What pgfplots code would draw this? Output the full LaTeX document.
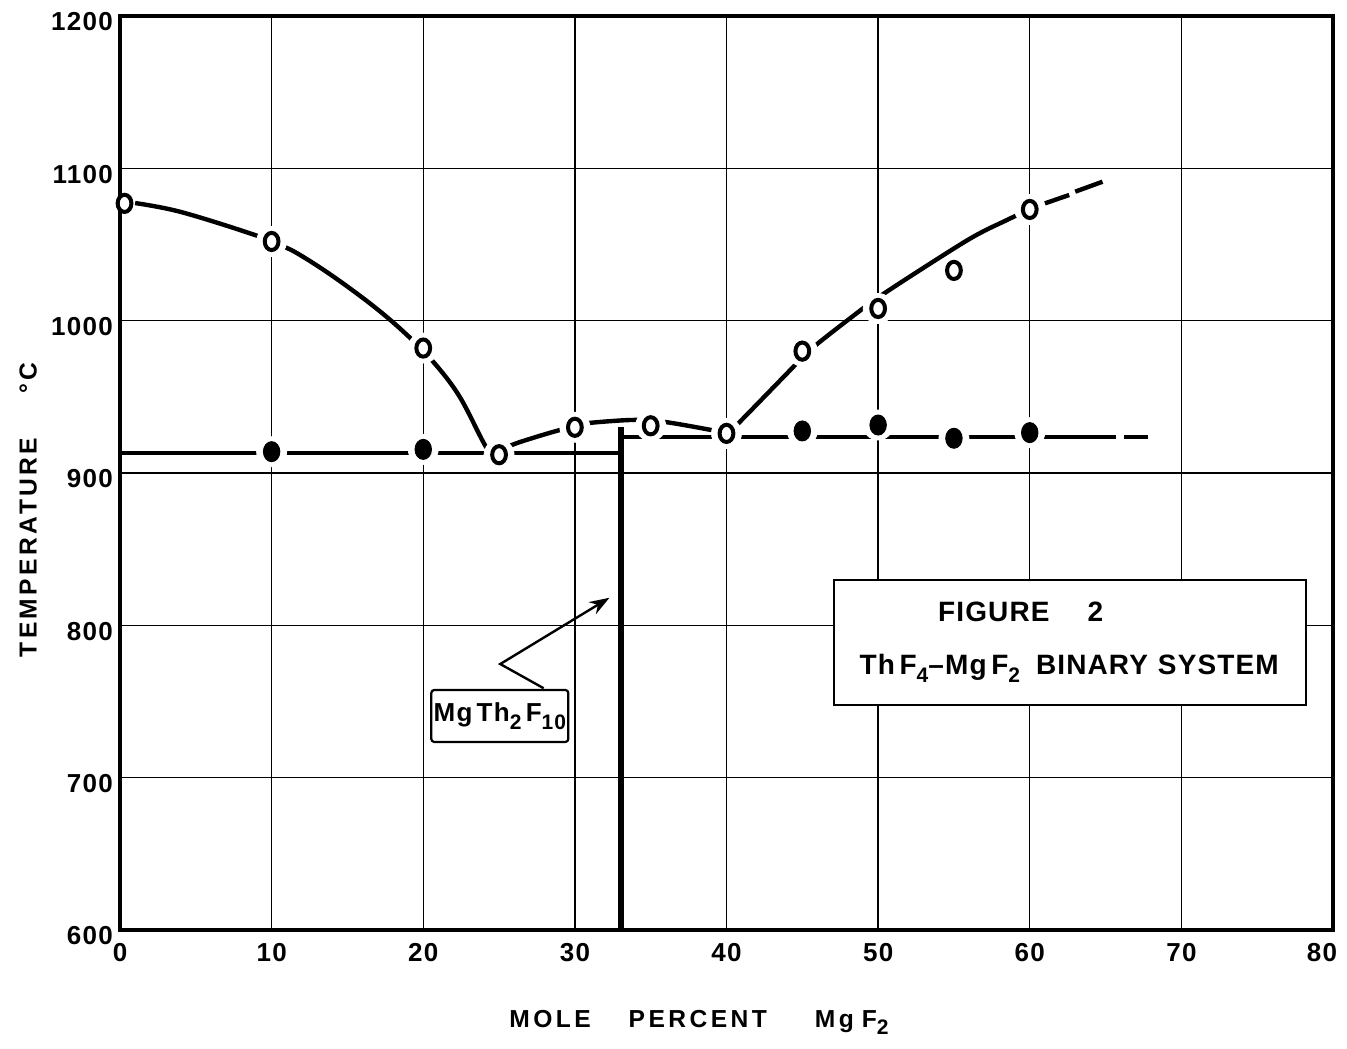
\documentclass[border=0pt]{standalone}
\usepackage{fontspec}
\setmainfont{Liberation Sans}
\newfontfamily\widefont{Liberation Sans}[LetterSpace=14]
\newfontfamily\tickfont{Liberation Sans}[LetterSpace=5]
\newfontfamily\boxfont{Liberation Sans}[LetterSpace=4]
\usepackage{pgfplots}
\pgfplotsset{compat=1.18}
\usetikzlibrary{arrows.meta}
\newcommand{\sub}[1]{\raisebox{-0.55ex}{\fontsize{10.5}{10.5}\selectfont #1}}
\newcommand{\lbl}{\boxfont\fontsize{14}{14}\selectfont\bfseries}
\newcommand{\axl}{\widefont\fontsize{12.3}{12.3}\selectfont\bfseries}
\begin{document}
\begin{tikzpicture}
\useasboundingbox (-60pt,-59pt) rectangle (613.5pt,465pt);
\begin{axis}[
  scale only axis, width=606.5pt, height=457pt,
  xmin=0, xmax=80, ymin=600, ymax=1200,
  xtick={0,10,...,80}, ytick={600,700,...,1200},
  xticklabels={0,10,20,30,40,50,60,70,80\hspace*{11pt}},
  grid=major, major grid style={black, line width=0.7pt},
  axis line style={line width=1.6pt},
  major tick length=0pt,
  tick label style={font=\tickfont\fontsize{13}{13}\selectfont\bfseries},
  /pgf/number format/assume math mode=true,
  /pgf/number format/1000 sep={},
  xticklabel style={yshift=-3pt},
  yticklabel style={yshift=-3pt},
  clip=false,
  xlabel={\axl MOLE\hspace{19pt}PERCENT\hspace{24pt}Mg\hspace{4pt}F\sub{2}},
  xlabel style={at={(axis description cs:0.4773,0)}, anchor=center, yshift=-46pt},
  ylabel={\axl TEMPERATURE\hspace{22pt}°C},
  ylabel style={at={(axis description cs:-0.0758,0.4595)}, anchor=center},
]
% liquidus, left branch
\addplot[black, line width=2.2pt, smooth, tension=0.6, mark=none] coordinates {
 (1.0,1077.2) (3.96,1071.5) (8.58,1057.3) (10.67,1049.2) (11.88,1043.1) (14.08,1028.9) (16.72,1009.5)
 (18.81,991.7) (20.66,973) (22.4,950.1) (24.2,916.2) (25,911)};
% liquidus, middle
\addplot[black, line width=2.2pt, smooth, tension=0.5, mark=none] coordinates {
 (25,912) (25.85,918.4) (28.6,927.1) (30,930.4) (30.7,932.6) (33.7,934.8)
 (35.8,933.7) (39,928.2) (40,925.6)};
% liquidus, right branch
\addplot[black, line width=2.2pt, smooth, tension=0.5, mark=none] coordinates {
 (40,925.6) (40.8,932.8) (44.1,966.5) (45.5,980.7) (48,1000.4) (50.4,1017.9)
 (55.9,1052.9) (58.5,1066.1) (60,1073)};
\addplot[black, line width=2.2pt, mark=none] coordinates {(61,1077) (62.6,1082.5)};
\addplot[black, line width=2.2pt, mark=none] coordinates {(63,1084.7) (64.8,1091.2)};
% solidus
\addplot[black, line width=2.2pt, mark=none] coordinates {(0,913) (33.05,913)};
\addplot[black, line width=2.2pt, mark=none] coordinates {(33.05,923.8) (65.7,923.8)};
\addplot[black, line width=2.2pt, mark=none] coordinates {(66.2,923.8) (67.8,923.8)};
% compound MgTh2F10
\addplot[black, line width=2.8pt, mark=none] coordinates {(33.05,600) (33.05,930)};
% white halos around points
\addplot[only marks, mark=*, mark size=7.5pt, mark options={draw=white, fill=white}] coordinates {
 (10,1052) (20,982) (25,912) (30,930) (35,931) (40,926) (45,980) (50,1008) (55,1033) (60,1073)
 (10,914) (20,915.5) (45,927.6) (50,931.5) (55,922.8) (60,926.5)};
% open circles (liquidus)
\addplot[only marks, mark=*, mark size=4.3pt, mark options={xscale=0.8, fill=white, draw=black, line width=2pt}] coordinates {
 (0.3,1077) (10,1052) (20,982) (25,912) (30,930) (35,931) (40,926) (45,980) (50,1008) (55,1033) (60,1073)};
% filled circles (solidus)
\addplot[only marks, mark=*, mark size=5pt, mark options={xscale=0.82, fill=black, draw=black, line width=0.5pt}] coordinates {
 (10,914) (20,915.5) (45,927.6) (50,931.5) (55,922.8) (60,926.5)};
% annotation
\draw[line width=1.2pt, -{Stealth[length=10pt,width=7pt]}] (axis cs:27.94,758.7) -- (axis cs:25.08,774.6) -- (axis cs:32.28,818.1);
\node[draw=black, fill=white, line width=1.1pt, rounded corners=1.5pt, minimum width=68.5pt, minimum height=26pt, inner sep=0pt, font=\tickfont\fontsize{13}{13}\selectfont\bfseries] at (axis cs:25.05,740.5) {Mg\,Th\sub{2}\,F\sub{10}};
\draw[line width=1.1pt, fill=white] (axis cs:47.08,747.7) rectangle (axis cs:78.2,829.7);
\node[font=\lbl] at (axis cs:59.4,808.9) {FIGURE\hspace{19pt}2};
\node[font=\lbl] at (axis cs:62.6,771.8) {Th\,F\sub{4}\textendash Mg\,F\sub{2}\hspace{8pt}BINARY\hspace{5pt}SYSTEM};
\end{axis}
\end{tikzpicture}
\end{document}
